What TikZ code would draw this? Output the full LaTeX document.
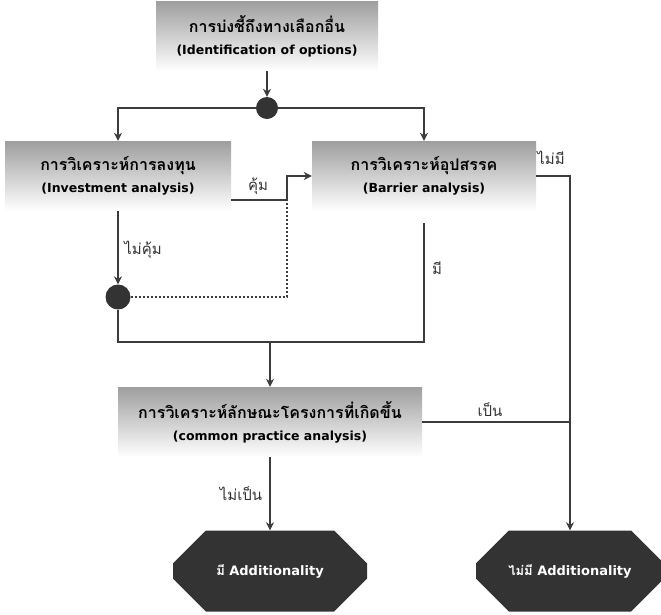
\documentclass[tikz,border=0pt]{standalone}
\usepackage{fontspec}
\setmainfont{DejaVu Sans}
\newfontfamily\thaifont[Script=Thai]{Loma}
\newcommand\thtitle{\thaifont\fontsize{16}{22}\selectfont}
\usetikzlibrary{arrows.meta,shapes.misc}
\definecolor{linegray}{HTML}{3C3C3C}
\definecolor{darkfill}{HTML}{333333}

\begin{document}
\begin{tikzpicture}[x=1pt,y=-1pt,
    box/.style={top color=black!38,bottom color=white,minimum width=#1,minimum height=70,align=center,inner sep=0pt,font=\bfseries\fontsize{12.5}{22}\selectfont},
    endbox/.style={chamfered rectangle,chamfered rectangle xsep=20pt,chamfered rectangle ysep=26pt,fill=darkfill,text=white,minimum width=#1,minimum height=81,inner sep=0pt,font=\bfseries\fontsize{13}{14}\selectfont},
    dot/.style={circle,fill=darkfill,minimum size=#1,inner sep=0pt},
    lbl/.style={font=\thaifont\fontsize{15}{17}\selectfont,text=black!80},
    conn/.style={draw=linegray,line width=2pt},
    arr/.style={conn,-{Stealth[length=8pt,width=8pt]}}]
  \useasboundingbox (0,0) rectangle (661,614);
  \node[box=222] (opt) at (267,36) {{\thtitle การบ่งชี้ถึงทางเลือกอื่น}\\(Identification of options)};
  \node[box=226] (inv) at (118,176) {{\thtitle การวิเคราะห์การลงทุน}\\(Investment analysis)};
  \node[box=224] (bar) at (424,176) {{\thtitle การวิเคราะห์อุปสรรค}\\(Barrier analysis)};
  \node[box=304] (cp) at (270,422) {{\thtitle การวิเคราะห์ลักษณะโครงการที่เกิดขึ้น}\\(common practice analysis)};
  \node[endbox=194] (yes) at (270,571) {{\thaifont มี} Additionality};
  \node[endbox=188] (no) at (570,571) {{\thaifont ไม่มี} Additionality};
  \node[dot=22] (j1) at (267,108) {};
  \node[dot=25] (j2) at (118,297) {};
  \coordinate (k) at (287,200);
  \coordinate (m) at (270,342);

  \draw[arr] (opt) -- (j1);
  \draw[arr] (j1) -| (inv);
  \draw[arr] (j1) -| (bar);
  \draw[arr] (inv) -- (j2);
  \draw[arr] (inv.east |- k) -- (k) |- (bar.west);
  \draw[conn,dotted] (j2) -| (k);
  \draw[conn] (j2) |- (m) -| ([yshift=-12pt]bar.south);
  \draw[arr] (m) -- (cp);
  \draw[arr] (bar.east) -| (no);
  \draw[conn] (cp.east) -- (cp.east -| no);
  \draw[arr] (cp) -- (yes);

  \node[lbl] (worth) at (258,186) {คุ้ม};
  \node[lbl] (notworth) at (143,250) {ไม่คุ้ม};
  \node[lbl] (nobar) at (551,158) {ไม่มี};
  \node[lbl] (hasbar) at (437,268) {มี};
  \node[lbl] (common) at (490,410) {เป็น};
  \node[lbl] (notcommon) at (241,494) {ไม่เป็น};
\end{tikzpicture}
\end{document}
